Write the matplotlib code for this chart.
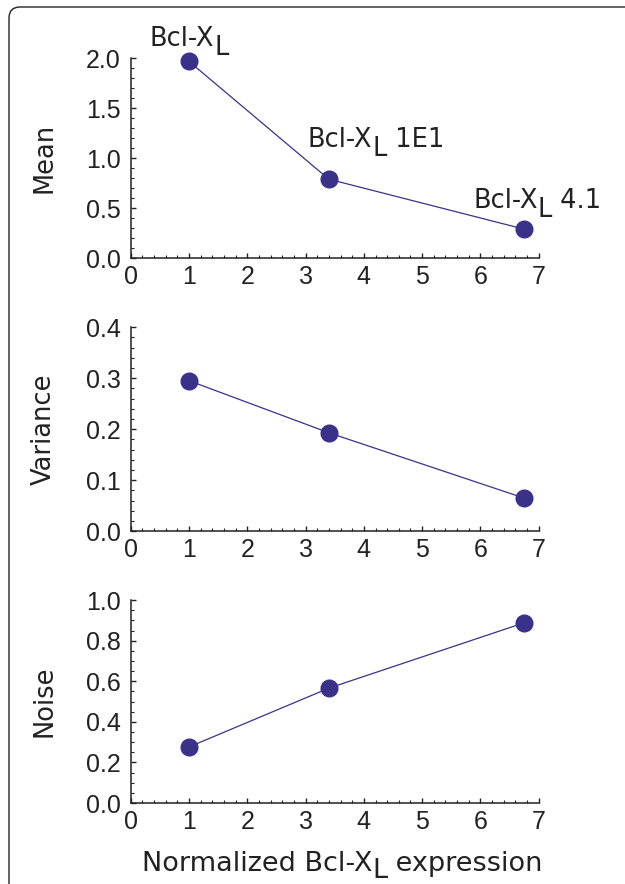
import matplotlib
matplotlib.use("Agg")
import matplotlib.pyplot as plt
from matplotlib.ticker import MultipleLocator, FormatStrFormatter
from matplotlib.patches import PathPatch
from matplotlib.path import Path

# values
expression = [1.0, 3.4, 6.75]
mean = [1.97, 0.79, 0.29]
variance = [0.295, 0.193, 0.065]
noise = [0.276, 0.566, 0.888]
point_names = ["", " 1E1", " 4.1"]

COLOR = "#3a3189"
INK = "#222222"
TICK_FONT = "Liberation Sans"
TEXT_FONT = "DejaVu Sans"
TEXT_SIZE = 18.5

W, H = 625, 884
fig = plt.figure(figsize=(W / 100, H / 100), dpi=100)

# thin frame: left and top edges with a rounded corner
r = 11
verts = [(9 / W, 0), (9 / W, (H - 7 - r) / H), (9 / W, (H - 7) / H),
         ((9 + r) / W, (H - 7) / H), (1, (H - 7) / H)]
codes = [Path.MOVETO, Path.LINETO, Path.CURVE3, Path.CURVE3, Path.LINETO]
fig.add_artist(PathPatch(Path(verts, codes), transform=fig.transFigure,
                         fill=False, edgecolor=INK, lw=1.0))


def bcl_text(ax, first, xy, xycoords, xytext, rest, size=TEXT_SIZE, drop=8.5):
    """'...Bcl-X' + lowered full-size 'L' + rest, chained piece by piece."""
    kw = dict(fontsize=size, family=TEXT_FONT, color=INK, annotation_clip=False)
    t1 = ax.annotate(first, xy, xycoords=xycoords, xytext=xytext,
                     textcoords="offset pixels", ha="left", va="baseline", **kw)
    t2 = ax.annotate("L", (1, 0), xycoords=t1, xytext=(0, -drop),
                     textcoords="offset pixels", ha="left", va="bottom", **kw)
    if rest:
        ax.annotate(rest, (1, 0), xycoords=t2, xytext=(0, drop),
                    textcoords="offset pixels", ha="left", va="bottom", **kw)


left, width = 0.209, 0.653
panels = [
    (0.708, 0.226, mean, "Mean", 2.0, 0.5, 0.1),
    (0.399, 0.231, variance, "Variance", 0.4, 0.1, 0.02),
    (0.0916, 0.2296, noise, "Noise", 1.0, 0.2, 0.05),
]

axes = []
for bottom, height, values, ylabel, ymax, major, minor in panels:
    ax = fig.add_axes([left, bottom, width, height])
    ax.plot(expression, values, "-", color=COLOR, lw=0.9, marker="o", ms=12,
            markerfacecolor=COLOR, markeredgecolor=COLOR, clip_on=False, zorder=3)
    ax.set_xlim(0, 7)
    ax.set_ylim(0, ymax)
    ax.xaxis.set_major_locator(MultipleLocator(1))
    ax.xaxis.set_minor_locator(MultipleLocator(0.2))
    ax.yaxis.set_major_locator(MultipleLocator(major))
    ax.yaxis.set_minor_locator(MultipleLocator(minor))
    ax.yaxis.set_major_formatter(FormatStrFormatter("%.1f"))
    for s in ["top", "right"]:
        ax.spines[s].set_visible(False)
    for s in ["left", "bottom"]:
        ax.spines[s].set_linewidth(1.1)
        ax.spines[s].set_color(INK)
    ax.tick_params(which="major", direction="in", length=3.5, width=1.0, color=INK)
    ax.tick_params(which="minor", direction="in", length=2.0, width=0.8, color=INK)
    ax.tick_params(axis="x", which="major", pad=5)
    ax.tick_params(axis="y", which="major", pad=7)
    for lab in ax.get_xticklabels() + ax.get_yticklabels():
        lab.set_fontfamily(TICK_FONT)
        lab.set_fontsize(18)
        lab.set_color(INK)
    ax.set_ylabel(ylabel, fontsize=TEXT_SIZE, family=TEXT_FONT, color=INK, va="center")
    ax.yaxis.set_label_coords(-0.212, 0.5)
    axes.append(ax)

# point labels on the top panel
offsets = [(-39, 15), (-21, 32), (-51, 21)]
for x, y, rest, off in zip(expression, mean, point_names, offsets):
    bcl_text(axes[0], "Bcl-X", (x, y), "data", off, rest)

# x axis title at the bottom
bcl_text(axes[2], "Normalized Bcl-X", (141.7 / W, (H - 871) / H), "figure fraction",
         (0, 0), " expression", size=19.5, drop=7)

fig.savefig("out.png", dpi=100)
